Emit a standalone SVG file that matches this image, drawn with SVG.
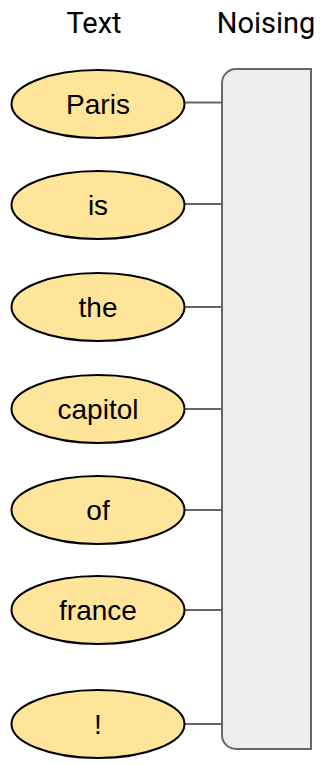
<svg xmlns="http://www.w3.org/2000/svg" width="322" height="765" viewBox="0 0 322 765">
<style>
.title{font-family:Roboto,"Liberation Sans",sans-serif;font-size:29px;fill:#000;text-anchor:middle}
.tok ellipse{fill:#ffe599;stroke:#000;stroke-width:2}
.tok text{font-family:"Liberation Sans",Arial,sans-serif;font-size:28px;fill:#000;text-anchor:middle}
.conn line{stroke:#666;stroke-width:2}
#noising path{fill:#eeeeee;stroke:#666;stroke-width:2}
</style>
<g id="title-text"><text class="title" x="94" y="33">Text</text></g>
<g id="title-noising"><text class="title" x="266" y="33">Noising</text></g>
<g id="connectors" class="conn">
<line x1="184" y1="102.5" x2="222" y2="102.5"/>
<line x1="184" y1="204" x2="222" y2="204"/>
<line x1="184" y1="307" x2="222" y2="307"/>
<line x1="184" y1="409" x2="222" y2="409"/>
<line x1="184" y1="510" x2="222" y2="510"/>
<line x1="184" y1="610" x2="222" y2="610"/>
<line x1="184" y1="724" x2="222" y2="724"/>
</g>
<g id="noising"><path d="M236 69 H311 V749 H236 A14 14 0 0 1 222 735 V83 A14 14 0 0 1 236 69 Z"/></g>
<g id="tok-paris" class="tok"><ellipse cx="98" cy="104" rx="86.5" ry="34"/><text x="98" y="114">Paris</text></g>
<g id="tok-is" class="tok"><ellipse cx="98" cy="205" rx="86.5" ry="34"/><text x="98" y="215">is</text></g>
<g id="tok-the" class="tok"><ellipse cx="98" cy="307" rx="86.5" ry="34"/><text x="98" y="317">the</text></g>
<g id="tok-capitol" class="tok"><ellipse cx="98" cy="409" rx="86.5" ry="34"/><text x="98" y="419">capitol</text></g>
<g id="tok-of" class="tok"><ellipse cx="98" cy="510" rx="86.5" ry="34"/><text x="98" y="520">of</text></g>
<g id="tok-france" class="tok"><ellipse cx="98" cy="610" rx="86.5" ry="34"/><text x="98" y="620">france</text></g>
<g id="tok-excl" class="tok"><ellipse cx="98" cy="724" rx="86.5" ry="34"/><text x="98" y="734">!</text></g>
</svg>
